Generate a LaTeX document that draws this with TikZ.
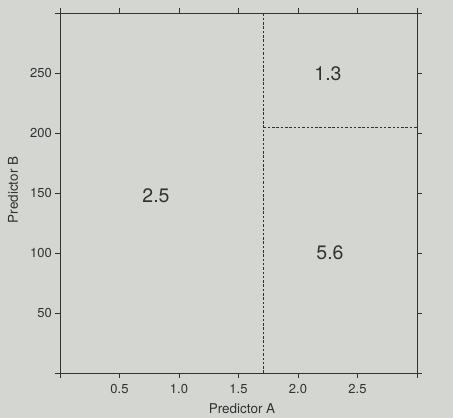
\documentclass[tikz,border=0pt]{standalone}
\usepackage{fontspec}
\setmainfont{TeX Gyre Heros}
\usetikzlibrary{calc}

\definecolor{paper}{RGB}{212,214,210}
\definecolor{ink}{RGB}{50,50,50}

\tikzset{
    frameline/.style={ink, line width=0.9pt},
    splitline/.style={ink, line width=0.7pt, dash pattern=on 2.5pt off 1.8pt},
    ticklabel/.style={ink, font=\fontsize{13}{15}\selectfont, inner sep=2pt},
    axistitle/.style={ink, font=\fontsize{13.5}{16}\selectfont},
    regionlabel/.style={ink, font=\fontsize{19.5}{22}\selectfont}
}

\begin{document}
\begin{tikzpicture}[x=1pt, y=1pt]

    \fill[paper] (0, 0) rectangle (453, 418);
    \useasboundingbox (0, 0) rectangle (453, 418);

    % A from 0 to 3 (59.5pt per 0.5), B from 0 to 300 (60pt per 50)
    \coordinate (O) at (60, 45);
    \coordinate (C) at (417, 405);
    \coordinate (S1) at (263.5, 45);
    \coordinate (S2) at (263.5, 405);
    \coordinate (S3) at (263.5, 291);
    \coordinate (S4) at (417, 291);

    \draw[frameline] (O) rectangle (C);

    \foreach \i in {0,...,6} {
        \draw[frameline] ($(O) + (59.5*\i, 0)$) -- ++(0, -5);
        \draw[frameline] ($(O) + (59.5*\i, 360)$) -- ++(0, 5);
        \draw[frameline] ($(O) + (0, 60*\i)$) -- ++(-5, 0);
        \draw[frameline] ($(O) + (357, 60*\i)$) -- ++(5, 0);
    }
    \foreach \i/\t in {1/0.5, 2/1.0, 3/1.5, 4/2.0, 5/2.5} {
        \node[ticklabel, below] (xl\i) at ($(O) + (59.5*\i, -9)$) {\t};
    }
    \foreach \i/\t in {1/50, 2/100, 3/150, 4/200, 5/250} {
        \node[ticklabel, left] (yl\i) at ($(O) + (-6, 60*\i)$) {\t};
    }

    \draw[splitline] (S1) -- (S2);
    \draw[splitline] (S3) -- (S4);

    \node[regionlabel] (r13) at (328, 344) {1.3};
    \node[regionlabel] (r25) at (156, 222) {2.5};
    \node[regionlabel] (r56) at (330, 165) {5.6};

    \node[axistitle] (ta) at (242, 9) {Predictor A};
    \node[axistitle, rotate=90] (tb) at (13, 228) {Predictor B};

\end{tikzpicture}
\end{document}
